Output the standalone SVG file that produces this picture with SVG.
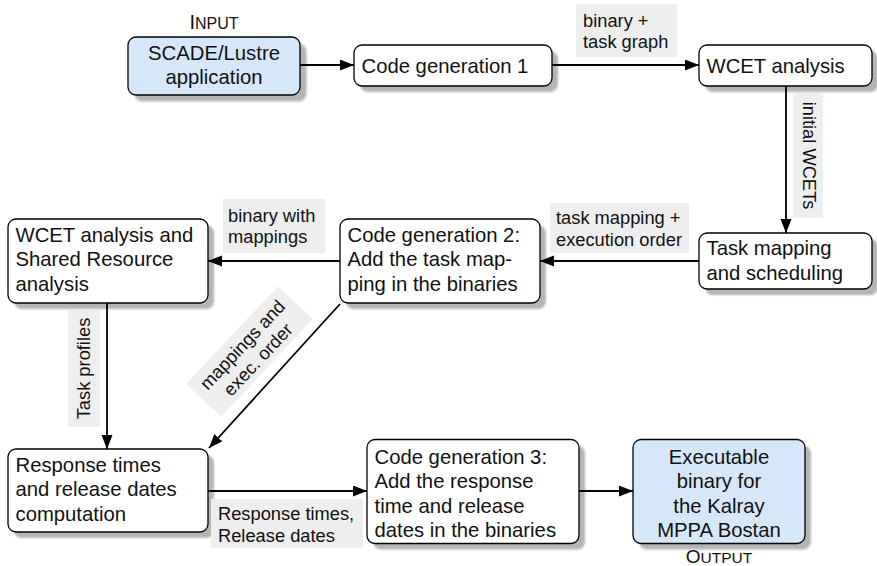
<svg xmlns="http://www.w3.org/2000/svg" width="877" height="566" viewBox="0 0 877 566">
<defs>
<style>
.box{fill:#ffffff;stroke:#000;stroke-width:1.3}
.blue{fill:#d7e7fa}
.sh{fill:#b4b4b4;filter:url(#blur)}
.t{font-family:"Liberation Sans",Arial,Helvetica,sans-serif;font-size:20.3px;fill:#111}
.l{font-family:"Liberation Sans",Arial,Helvetica,sans-serif;font-size:18.3px;fill:#111}
.lbg{fill:#eeeeee}
.c{stroke:#000;stroke-width:1.8;fill:none;marker-end:url(#arr)}
.mid{text-anchor:middle}
</style>
<filter id="blur" x="-10%" y="-10%" width="120%" height="120%"><feGaussianBlur stdDeviation="1"/></filter>
<marker id="arr" markerUnits="userSpaceOnUse" markerWidth="16" markerHeight="12" refX="14" refY="5.5" orient="auto"><path d="M0,0 L14,5.5 L0,11 Z" fill="#000"/></marker>
</defs>

<g id="input-label"><text class="t mid" x="214" y="29"><tspan font-size="20px">I</tspan><tspan font-size="16px">NPUT</tspan></text></g>

<g id="scade">
<rect class="sh" x="134.5" y="43.5" width="172" height="58" rx="8"/>
<rect class="box blue" x="128" y="37" width="172" height="58" rx="8"/>
<text class="t mid" x="214" y="60">SCADE/Lustre</text>
<text class="t mid" x="214" y="83.5">application</text>
</g>

<g id="codegen1">
<rect class="sh" x="360" y="51" width="198" height="41" rx="8"/>
<rect class="box" x="354" y="45" width="198" height="41" rx="8"/>
<text class="t" x="361.5" y="72.5">Code generation 1</text>
</g>

<g id="wcet1">
<rect class="sh" x="705" y="51" width="173" height="41" rx="8"/>
<rect class="box" x="699" y="45" width="173" height="41" rx="8"/>
<text class="t" x="706.5" y="72.5">WCET analysis</text>
</g>

<g id="taskmap">
<rect class="sh" x="705" y="239" width="173" height="56" rx="8"/>
<rect class="box" x="699" y="233" width="173" height="56" rx="8"/>
<text class="t" x="706.5" y="255">Task mapping</text>
<text class="t" x="706.5" y="279.5">and scheduling</text>
</g>

<g id="codegen2">
<rect class="sh" x="346" y="225" width="200" height="84" rx="8"/>
<rect class="box" x="340" y="219" width="200" height="84" rx="8"/>
<text class="t" x="347.5" y="241.5">Code generation 2:</text>
<text class="t" x="347.5" y="266">Add the task map-</text>
<text class="t" x="347.5" y="290.5">ping in the binaries</text>
</g>

<g id="wcet2">
<rect class="sh" x="14" y="225" width="200" height="84" rx="8"/>
<rect class="box" x="8" y="219" width="200" height="84" rx="8"/>
<text class="t" x="15.5" y="241.5">WCET analysis and</text>
<text class="t" x="15.5" y="266">Shared Resource</text>
<text class="t" x="15.5" y="290.5">analysis</text>
</g>

<g id="response">
<rect class="sh" x="14" y="455" width="200" height="83" rx="8"/>
<rect class="box" x="8" y="449" width="200" height="83" rx="8"/>
<text class="t" x="15.5" y="471.5">Response times</text>
<text class="t" x="15.5" y="496">and release dates</text>
<text class="t" x="15.5" y="520.5">computation</text>
</g>

<g id="codegen3">
<rect class="sh" x="373" y="445.5" width="212" height="104" rx="8"/>
<rect class="box" x="367" y="439.5" width="212" height="104" rx="8"/>
<text class="t" x="374.5" y="464">Code generation 3:</text>
<text class="t" x="374.5" y="488.3">Add the response</text>
<text class="t" x="374.5" y="512.6">time and release</text>
<text class="t" x="374.5" y="536.9">dates in the binaries</text>
</g>

<g id="executable">
<rect class="sh" x="639" y="445.5" width="172" height="104" rx="8"/>
<rect class="box blue" x="633" y="439.5" width="172" height="104" rx="8"/>
<text class="t mid" x="719" y="464">Executable</text>
<text class="t mid" x="719" y="488.3">binary for</text>
<text class="t mid" x="719" y="512.6">the Kalray</text>
<text class="t mid" x="719" y="536.9">MPPA Bostan</text>
</g>

<g id="output-label"><text class="t mid" x="719" y="563"><tspan font-size="19px">O</tspan><tspan font-size="15.5px">UTPUT</tspan></text></g>

<g id="connectors">
<line class="c" x1="300" y1="65" x2="354" y2="65"/>
<line class="c" x1="552" y1="65" x2="699" y2="65"/>
<rect class="lbg" x="576" y="4" width="101" height="53"/>
<text class="l" x="583" y="26.5">binary +</text>
<text class="l" x="583" y="48">task graph</text>

<line class="c" x1="786" y1="86" x2="786" y2="233"/>
<rect class="lbg" x="793" y="93" width="30" height="125"/>
<text class="l mid" transform="translate(803,155.5) rotate(90)">initial WCETs</text>

<line class="c" x1="699" y1="261" x2="540" y2="261"/>
<rect class="lbg" x="550" y="203" width="139" height="50"/>
<text class="l" x="556" y="224">task mapping +</text>
<text class="l" x="556" y="245.6">execution order</text>

<line class="c" x1="340" y1="261" x2="208" y2="261"/>
<rect class="lbg" x="223" y="199" width="102" height="54"/>
<text class="l" x="228" y="221.7">binary with</text>
<text class="l" x="228" y="243.3">mappings</text>

<line class="c" x1="107" y1="303" x2="107" y2="449"/>
<rect class="lbg" x="68" y="310" width="32" height="117"/>
<text class="l mid" transform="translate(90,368.5) rotate(-90)">Task profiles</text>

<line class="c" x1="340" y1="304" x2="209" y2="448"/>
<g transform="translate(249.5,351.5) rotate(-46.8)">
<rect class="lbg" x="-67" y="-24" width="134" height="48"/>
<text class="l mid" x="0" y="-3.5">mappings and</text>
<text class="l mid" x="0" y="18">exec. order</text>
</g>

<line class="c" x1="208" y1="491" x2="367" y2="491"/>
<rect class="lbg" x="211" y="499" width="152" height="49"/>
<text class="l" x="218" y="520">Response times,</text>
<text class="l" x="218" y="541.7">Release dates</text>

<line class="c" x1="579" y1="491" x2="633" y2="491"/>
</g>
</svg>
